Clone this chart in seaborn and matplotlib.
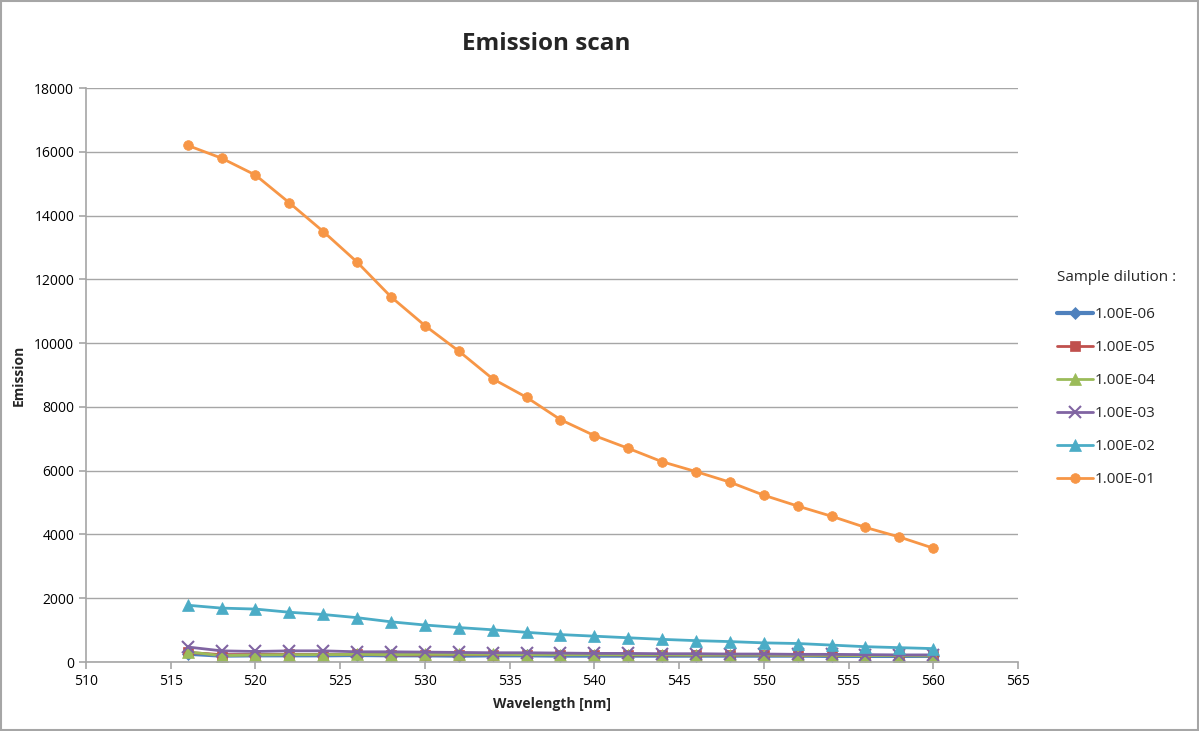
import numpy as np
import pandas as pd
import matplotlib
matplotlib.use("Agg")
import matplotlib.pyplot as plt
import seaborn as sns
from matplotlib.patches import Rectangle

wavelength = list(range(516, 561, 2))
series_names = ["1.00E-06", "1.00E-05", "1.00E-04", "1.00E-03", "1.00E-02", "1.00E-01"]

em_1e6 = [260, 200, 210, 210, 210, 220, 210, 210, 200, 210, 210, 200, 200, 200, 200, 200, 200, 200, 200, 190, 190, 190, 190]
em_1e5 = [300, 230, 230, 240, 230, 240, 220, 220, 230, 230, 230, 230, 230, 220, 220, 220, 220, 220, 210, 210, 200, 200, 200]
em_1e4 = [320, 200, 220, 230, 230, 240, 230, 240, 240, 240, 230, 230, 230, 230, 230, 220, 220, 220, 210, 210, 200, 200, 190]
em_1e3 = [470, 350, 330, 350, 350, 320, 320, 310, 300, 290, 290, 280, 270, 270, 260, 260, 250, 250, 240, 240, 230, 220, 220]
em_1e2 = [1780, 1690, 1660, 1560, 1490, 1390, 1260, 1160, 1080, 1010, 930, 860, 810, 760, 710, 670, 640, 600, 580, 530, 480, 450, 420]
em_1e1 = [16200, 15800, 15270, 14400, 13500, 12540, 11450, 10550, 9750, 8880, 8300, 7600, 7100, 6700, 6280, 5970, 5640, 5230, 4890, 4570, 4220, 3920, 3570]

values = [em_1e6, em_1e5, em_1e4, em_1e3, em_1e2, em_1e1]
colors = ["#4F81BD", "#C0504D", "#9BBB59", "#8064A2", "#4BACC6", "#F79646"]
markers = ["D", "s", "^", "x", "^", "o"]
msizes = [6, 7, 8, 8, 8, 7]
lwidths = [3.0, 2.0, 2.0, 2.0, 2.0, 2.0]

rows = []
for name, vals in zip(series_names, values):
    for w, v in zip(wavelength, vals):
        rows.append({"Wavelength": w, "Emission": v, "Series": name})
df = pd.DataFrame(rows)

sns.set_theme(style="white")
plt.rcParams["font.family"] = ["Open Sans", "DejaVu Sans"]

fig = plt.figure(figsize=(11.99, 7.31), dpi=100)
ax = fig.add_axes([86/1199, 1-662/731, (1018-86)/1199, (662-88)/731])

for name, c, m, ms, lw in zip(series_names, colors, markers, msizes, lwidths):
    sub = df[df["Series"] == name]
    sns.lineplot(data=sub, x="Wavelength", y="Emission", ax=ax, color=c, marker=m,
                 markersize=ms, linewidth=lw, markeredgecolor=c,
                 markeredgewidth=1.5 if m == "x" else 0.5, label=name)

ax.set_xlim(510, 565)
ax.set_ylim(0, 18000)
ax.set_xticks(range(510, 566, 5))
ax.set_yticks(range(0, 18001, 2000))
ax.yaxis.grid(True, color="#A6A6A6", linewidth=1)
ax.set_axisbelow(True)
for s in ["top", "right"]:
    ax.spines[s].set_visible(False)
for s in ["left", "bottom"]:
    ax.spines[s].set_color("#A6A6A6")
    ax.spines[s].set_linewidth(1.2)
ax.tick_params(axis="both", which="both", direction="out", length=5, color="#A6A6A6",
               width=1.2, labelsize=10, labelcolor="black", bottom=True, left=True)
ax.set_xlabel("Wavelength [nm]", fontsize=10, fontweight="bold", labelpad=6)
ax.set_ylabel("Emission", fontsize=10, fontweight="bold", labelpad=6)

fig.text(546/1199, 1-44/731, "Emission scan", ha="center", va="center",
         fontsize=17.5, fontweight="bold")

handles, labels = ax.get_legend_handles_labels()
if ax.legend_:
    ax.legend_.remove()
leg = fig.legend(handles, labels, loc="upper left", bbox_to_anchor=(1043/1199, 1-256/731),
                 frameon=False, fontsize=11, title="Sample dilution :", title_fontsize=11,
                 handlelength=2.4, handletextpad=0.1, labelspacing=1.18, alignment="left")
leg._legend_box.sep = 16

fig.patches.append(Rectangle((0.001, 0.001), 0.998, 0.998, transform=fig.transFigure,
                             fill=False, edgecolor="#A6A6A6", linewidth=1.5))

fig.savefig("out.png", dpi=100)
